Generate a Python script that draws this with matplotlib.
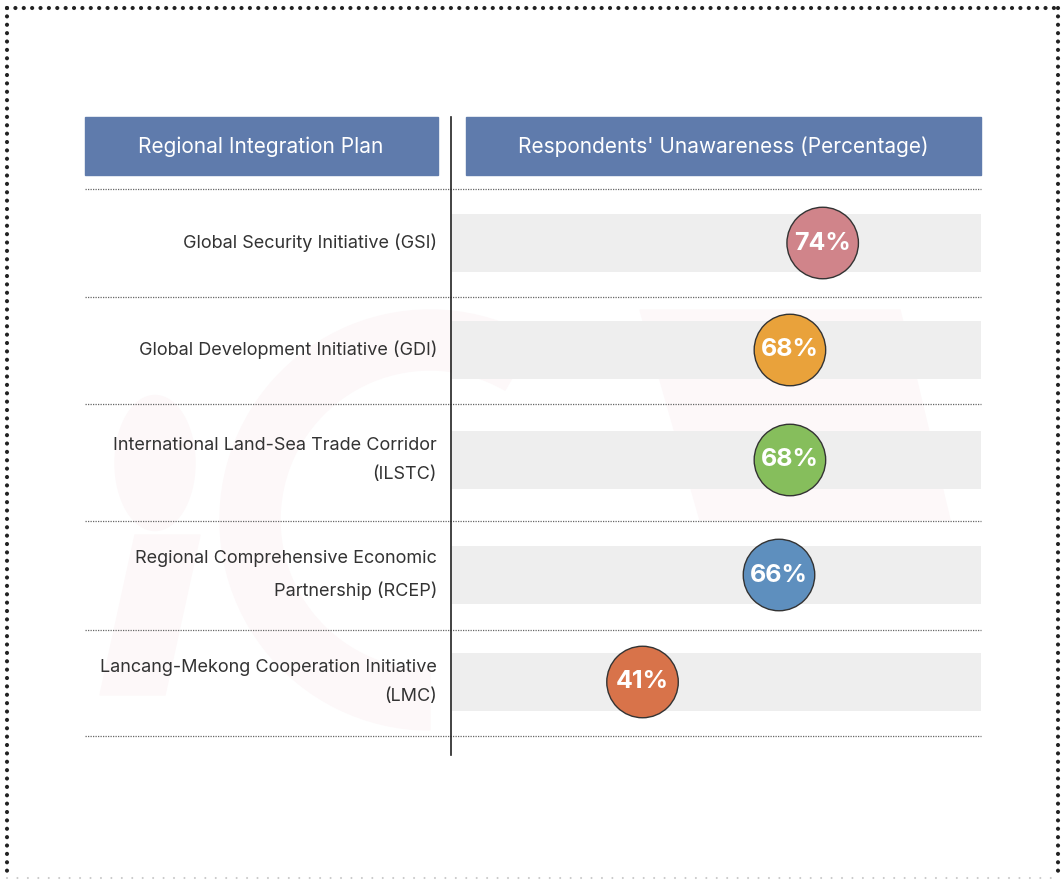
import matplotlib.pyplot as plt
from matplotlib.patches import Rectangle, Ellipse, Polygon, Wedge

plt.rcParams['font.family'] = ['Inter', 'DejaVu Sans']

# 数据
plans = [
    "Global Security Initiative (GSI)",
    "Global Development Initiative (GDI)",
    "International Land-Sea Trade Corridor\n(ILSTC)",
    "Regional Comprehensive Economic\nPartnership (RCEP)",
    "Lancang-Mekong Cooperation Initiative\n(LMC)",
]
unaware = [74, 68, 68, 66, 41]
colors = ["#D0848A", "#E9A23B", "#86BE5C", "#5E8FBE", "#D8734A"]
headers = ["Regional Integration Plan", "Respondents' Unawareness (Percentage)"]

# 版面 (像素)
W, H = 1061, 880
row_y = [243, 350, 460, 575, 682]
sep_y = [189, 297, 404, 521, 630, 736]

fig = plt.figure(figsize=(W / 100, H / 100), dpi=100)
ax = fig.add_axes([0, 0, 1, 1])
ax.set_xlim(0, W)
ax.set_ylim(H, 0)
ax.axis("off")

# 水印
wm = "#FDF8F9"
ax.add_patch(Ellipse((155, 463), 80, 135, color=wm, zorder=0))
ax.add_patch(Polygon([(100, 695), (165, 695), (200, 535), (135, 535)], color=wm, zorder=0))
ax.add_patch(Wedge((430, 520), 210, 90, 300, width=60, color=wm, zorder=0))
ax.add_patch(Polygon([(640, 310), (900, 310), (950, 520), (700, 520)], color=wm, zorder=0))

# 外框
dot = dict(lw=3, linestyle=(0, (0.01, 2)), dash_capstyle="round", color="#222222")
ax.plot([7, 1058], [8, 8], **dot)
ax.plot([7, 7], [8, 876], **dot)
ax.plot([1058, 1058], [8, 876], **dot)
ax.plot([7, 1058], [878, 878], lw=1.5, linestyle=(0, (0.01, 5)), dash_capstyle="round",
        color="#C8C8C8")

# 表头
ax.add_patch(Rectangle((85, 117), 353, 58, color="#5F7BAC", zorder=2))
ax.add_patch(Rectangle((466, 117), 515, 58, color="#5F7BAC", zorder=2))
ax.text(261, 147, headers[0], color="white", fontsize=15, ha="center", va="center", zorder=3)
ax.text(723, 147, headers[1], color="white", fontsize=15, ha="center", va="center", zorder=3)

# 分隔线
for y in sep_y:
    ax.plot([85, 981], [y, y], color="#666666", lw=0.9, linestyle=(0, (1, 1)), zorder=1)
ax.plot([451, 451], [117, 755], color="#222222", lw=1.2, zorder=4)

# 左侧标签
for label, y in zip(plans, row_y):
    ax.text(437, y, label, ha="right", va="center", fontsize=13, color="#333333",
            linespacing=1.95, zorder=3)

# 数据区
ax2 = fig.add_axes([452 / W, 0, (981 - 452) / W, 1])
ax2.set_xlim(6.1, 103)
ax2.set_ylim(H, 0)
ax2.axis("off")
ax2.patch.set_alpha(0)
lo, hi = ax2.get_xlim()
ax2.barh(row_y, [hi - lo] * len(row_y), left=lo, height=58, color="#EEEEEE", zorder=1)
ax2.scatter(unaware, row_y, s=2650, c=colors, edgecolors="#333333", linewidths=1, zorder=2)
for v, y in zip(unaware, row_y):
    ax2.text(v, y, f"{v}%", ha="center", va="center", fontsize=18, fontweight="bold",
             color="white", zorder=3)

fig.savefig("out.png", dpi=100)
